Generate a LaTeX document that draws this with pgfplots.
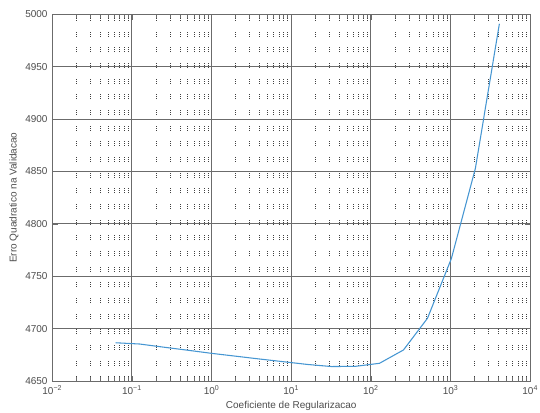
\documentclass[border=0pt]{standalone}
\usepackage{pgfplots}
\pgfplotsset{compat=1.18}
\usepackage{fontspec}
\setmainfont{Liberation Sans}
\definecolor{linblue}{RGB}{70,150,210}
\definecolor{majgrid}{gray}{0.42}
\definecolor{txtgray}{gray}{0.3}

\begin{document}
\begin{tikzpicture}
\begin{axis}[
  at={(39.2pt,23.25pt)}, anchor=south west,
  scale only axis,
  width=358.5pt, height=275pt,
  xmode=log,
  xmin=1e-2, xmax=1e4,
  ymin=4650, ymax=5000,
  xtick={1e-2,1e-1,1,1e1,1e2,1e3,1e4},
  xticklabels={10\textsuperscript{−2},10\textsuperscript{−1},10\textsuperscript{0},10\textsuperscript{1},10\textsuperscript{2},10\textsuperscript{3},10\textsuperscript{4}},
  minor xtick={0.02,0.03,0.04,0.05,0.06,0.07,0.08,0.09,
               0.2,0.3,0.4,0.5,0.6,0.7,0.8,0.9,
               2,3,4,5,6,7,8,9,
               20,30,40,50,60,70,80,90,
               200,300,400,500,600,700,800,900,
               2000,3000,4000,5000,6000,7000,8000,9000},
  ytick={4650,4700,4750,4800,4850,4900,4950,5000},
  yticklabels={4650,4700,4750,4800,4850,4900,4950,5000},
  minor y tick num=0,
  grid=major, xminorgrids=true,
  major grid style={majgrid, line width=0.65pt},
  minor grid style={black!75, line width=0.4pt,
    dash pattern=on 0.45pt off 1.1pt on 0.45pt off 1.1pt on 0.45pt off 8.2pt},
  tick align=inside, xtick pos=both, ytick pos=both,
  major tick length=4pt, minor tick length=3pt,
  tick style={majgrid, line width=0.5pt},
  axis line style={majgrid, line width=0.65pt},
  tick label style={font=\fontsize{7.5}{9}\selectfont, text=txtgray},
  label style={font=\fontsize{7.5}{9}\selectfont, text=txtgray},
  xlabel={Coeficiente de Regularizacao},
  ylabel={Erro Quadratico na Validacao},
  xlabel style={at={(axis description cs:0.5,-0.068)}, anchor=center},
  ylabel style={at={(axis description cs:-0.08,0.5)}, anchor=center},
]
\addplot[color=linblue, line width=0.8pt] coordinates {
  (0.0625,4686.5) (0.125,4685.3) (0.25,4682.3) (0.5,4679.4)
  (1,4676.4) (2,4673.7) (4,4671.0) (8,4668.4) (16,4665.8)
  (32,4663.8) (64,4664.0) (128,4666.9) (256,4679.6) (512,4709.8)
  (1024,4767) (2048,4853) (4096,4991)
};
\end{axis}
\pgfresetboundingbox
\path[use as bounding box] (0,0) rectangle (405pt,309pt);
\end{tikzpicture}
\end{document}
